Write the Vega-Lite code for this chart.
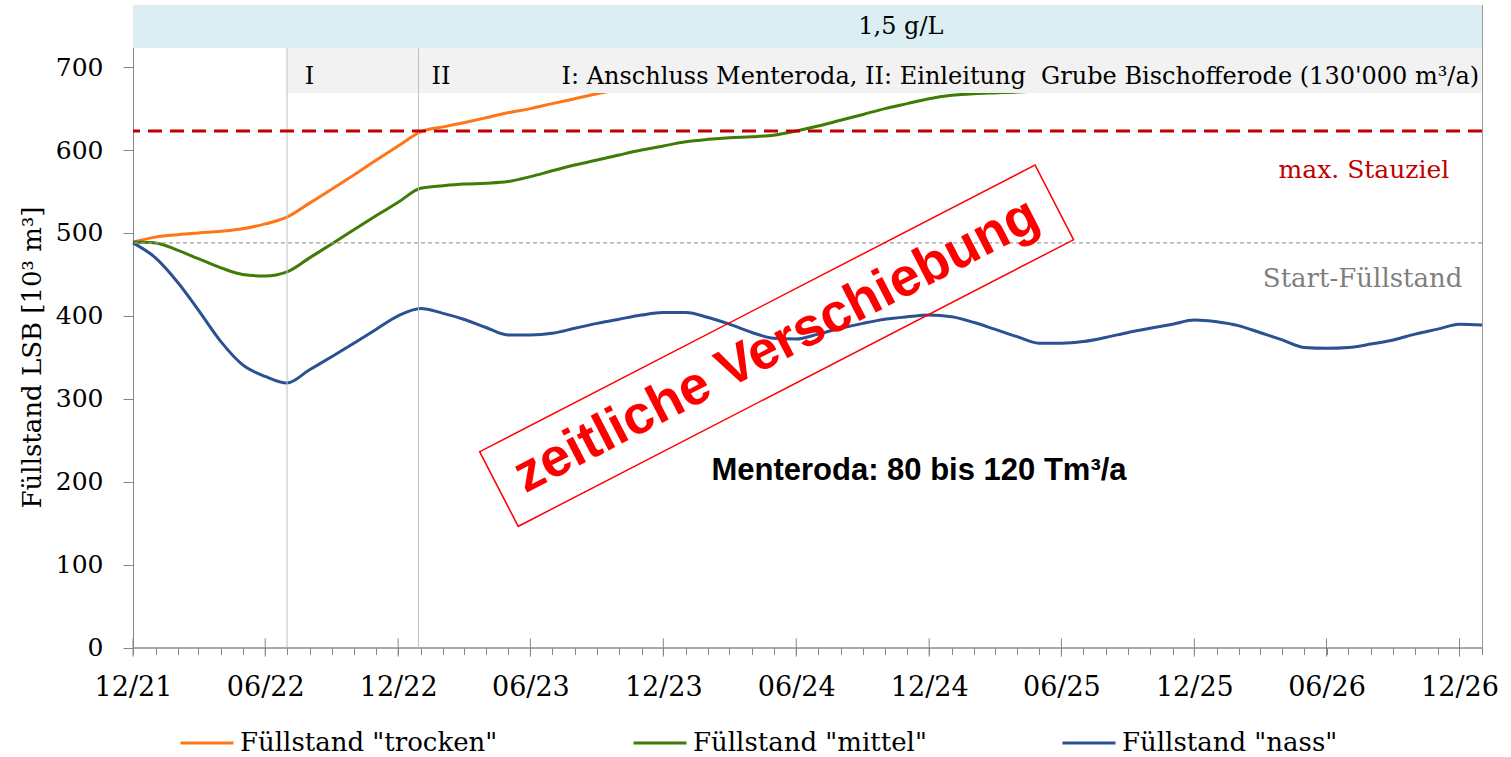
{
  "$schema": "https://vega.github.io/schema/vega-lite/v6.json",
  "width": 1349,
  "height": 642.5,
  "autosize": {"type": "none"},
  "padding": {"left": 133, "top": 5, "right": 29, "bottom": 109.5},
  "background": "white",
  "config": {"view": {"stroke": "#9a9a9a", "strokeWidth": 1}, "font": "DejaVu Serif"},
  "datasets": {
    "levels": [
      {"date": "2021-12-01", "trocken": 489, "mittel": 489, "nass": 488},
      {"date": "2022-01-01", "trocken": 495, "mittel": 488, "nass": 470},
      {"date": "2022-02-01", "trocken": 498, "mittel": 479, "nass": 440},
      {"date": "2022-03-01", "trocken": 500, "mittel": 469, "nass": 407},
      {"date": "2022-04-01", "trocken": 502, "mittel": 458, "nass": 369},
      {"date": "2022-05-01", "trocken": 505, "mittel": 450, "nass": 341},
      {"date": "2022-06-01", "trocken": 511, "mittel": 448, "nass": 327},
      {"date": "2022-07-01", "trocken": 519, "mittel": 453, "nass": 319},
      {"date": "2022-08-01", "trocken": 536, "mittel": 470, "nass": 335},
      {"date": "2022-09-01", "trocken": 553, "mittel": 487, "nass": 351},
      {"date": "2022-10-01", "trocken": 570, "mittel": 504, "nass": 367},
      {"date": "2022-11-01", "trocken": 588, "mittel": 521, "nass": 384},
      {"date": "2022-12-01", "trocken": 605, "mittel": 537, "nass": 400},
      {"date": "2023-01-01", "trocken": 622, "mittel": 554, "nass": 409},
      {"date": "2023-02-01", "trocken": 628, "mittel": 557, "nass": 403},
      {"date": "2023-03-01", "trocken": 633, "mittel": 559, "nass": 396},
      {"date": "2023-04-01", "trocken": 639, "mittel": 560, "nass": 386},
      {"date": "2023-05-01", "trocken": 645, "mittel": 562, "nass": 377},
      {"date": "2023-06-01", "trocken": 650, "mittel": 568, "nass": 377},
      {"date": "2023-07-01", "trocken": 656, "mittel": 575, "nass": 379},
      {"date": "2023-08-01", "trocken": 662, "mittel": 582, "nass": 385},
      {"date": "2023-09-01", "trocken": 668, "mittel": 588, "nass": 391},
      {"date": "2023-10-01", "trocken": 673, "mittel": 594, "nass": 396},
      {"date": "2023-11-01", "trocken": 679, "mittel": 600, "nass": 401},
      {"date": "2023-12-01", "trocken": 684, "mittel": 605, "nass": 404},
      {"date": "2024-01-01", "mittel": 610, "nass": 404},
      {"date": "2024-02-01", "mittel": 613, "nass": 398},
      {"date": "2024-03-01", "mittel": 615, "nass": 390},
      {"date": "2024-04-01", "mittel": 616, "nass": 380},
      {"date": "2024-05-01", "mittel": 618, "nass": 373},
      {"date": "2024-06-01", "mittel": 623, "nass": 372},
      {"date": "2024-07-01", "mittel": 629, "nass": 378},
      {"date": "2024-08-01", "mittel": 636, "nass": 385},
      {"date": "2024-09-01", "mittel": 643, "nass": 391},
      {"date": "2024-10-01", "mittel": 650, "nass": 396},
      {"date": "2024-11-01", "mittel": 656, "nass": 399},
      {"date": "2024-12-01", "mittel": 662, "nass": 401},
      {"date": "2025-01-01", "mittel": 666, "nass": 399},
      {"date": "2025-02-01", "mittel": 668, "nass": 392},
      {"date": "2025-03-01", "mittel": 669, "nass": 384},
      {"date": "2025-04-01", "mittel": 670, "nass": 375},
      {"date": "2025-05-01", "mittel": 672, "nass": 367},
      {"date": "2025-06-01", "mittel": 675, "nass": 367},
      {"date": "2025-07-01", "nass": 369},
      {"date": "2025-08-01", "nass": 374},
      {"date": "2025-09-01", "nass": 380},
      {"date": "2025-10-01", "nass": 385},
      {"date": "2025-11-01", "nass": 390},
      {"date": "2025-12-01", "nass": 395},
      {"date": "2026-01-01", "nass": 393},
      {"date": "2026-02-01", "nass": 388},
      {"date": "2026-03-01", "nass": 380},
      {"date": "2026-04-01", "nass": 371},
      {"date": "2026-05-01", "nass": 362},
      {"date": "2026-06-01", "nass": 361},
      {"date": "2026-07-01", "nass": 362},
      {"date": "2026-08-01", "nass": 366},
      {"date": "2026-09-01", "nass": 371},
      {"date": "2026-10-01", "nass": 378},
      {"date": "2026-11-01", "nass": 384},
      {"date": "2026-12-01", "nass": 390},
      {"date": "2027-01-01", "nass": 389}
    ],
    "majorTicks": [
      {"date": "2021-12-01"}, {"date": "2022-06-01"}, {"date": "2022-12-01"},
      {"date": "2023-06-01"}, {"date": "2023-12-01"}, {"date": "2024-06-01"},
      {"date": "2024-12-01"}, {"date": "2025-06-01"}, {"date": "2025-12-01"},
      {"date": "2026-06-01"}, {"date": "2026-12-01"}
    ]
  },
  "layer": [
    {
      "data": {"name": "levels"},
      "transform": [{"fold": ["trocken", "mittel", "nass"], "as": ["series", "value"]}],
      "mark": {"type": "line", "strokeWidth": 3, "interpolate": "monotone"},
      "encoding": {
        "x": {
          "field": "date", "type": "temporal",
          "scale": {"type": "utc", "nice": false, "domain": [{"year": 2021, "month": 12, "date": 1, "utc": true}, {"year": 2027, "month": 1, "date": 1, "utc": true}]},
          "axis": {
            "format": "%m/%y",
            "tickCount": {"interval": "month", "step": 1},
            "labelExpr": "(utcmonth(datum.value) == 5 || utcmonth(datum.value) == 11) ? datum.label : ''",
            "labelFont": "DejaVu Serif", "labelFontSize": 27, "labelColor": "black",
            "labelPadding": 20, "tickSize": 7, "tickColor": "#868686", "domainColor": "#868686",
            "grid": false, "title": null, "labelOverlap": false, "labelFlush": false, "labelBound": false
          }
        },
        "y": {
          "field": "value", "type": "quantitative",
          "scale": {"domain": [0, 775], "nice": false},
          "axis": {
            "values": [0, 100, 200, 300, 400, 500, 600, 700],
            "labelFont": "DejaVu Serif", "labelFontSize": 25, "labelColor": "black",
            "labelPadding": 20, "tickSize": 10, "tickColor": "#868686", "domainColor": "#868686",
            "grid": false,
            "title": "Füllstand LSB [10³ m³]",
            "titleFont": "DejaVu Serif", "titleFontSize": 26, "titleFontWeight": "normal", "titleColor": "black",
            "titlePadding": 10, "titleY": 352
          }
        },
        "color": {
          "field": "series", "type": "nominal",
          "scale": {"domain": ["trocken", "mittel", "nass"], "range": ["#FF7518", "#3F7B06", "#2A5192"]},
          "legend": {
            "title": null, "orient": "none", "legendX": 46, "legendY": 710, "direction": "horizontal",
            "symbolType": "stroke", "symbolStrokeWidth": 3, "symbolSize": 2809,
            "labelFont": "DejaVu Serif", "labelFontSize": 26, "labelColor": "black",
            "labelOffset": 5, "columnPadding": 129, "labelLimit": 0,
            "labelExpr": "'Füllstand \"' + datum.label + '\"'"
          }
        }
      }
    },
    {
      "data": {"values": [{"date": "2022-07-01", "end": "2027-01-01", "value": 669, "high": 723}]},
      "mark": {"type": "rect", "color": "#F2F2F2"},
      "encoding": {
        "x": {"field": "date", "type": "temporal"}, "x2": {"field": "end"},
        "y": {"field": "value", "type": "quantitative"}, "y2": {"field": "high"}
      }
    },
    {
      "data": {"values": [{"date": "2021-12-01", "end": "2027-01-01", "value": 723, "high": 775}]},
      "mark": {"type": "rect", "color": "#DAEEF3"},
      "encoding": {
        "x": {"field": "date", "type": "temporal"}, "x2": {"field": "end"},
        "y": {"field": "value", "type": "quantitative"}, "y2": {"field": "high"}
      }
    },
    {
      "data": {"values": [{"date": "2022-07-01"}, {"date": "2022-12-29"}]},
      "mark": {"type": "rule", "color": "#C0C0C0", "strokeWidth": 1},
      "encoding": {
        "x": {"field": "date", "type": "temporal"},
        "y": {"datum": 0, "type": "quantitative"}, "y2": {"datum": 723}
      }
    },
    {
      "data": {"values": [{"level": "start"}]},
      "mark": {"type": "rule", "color": "#A0A0A0", "strokeWidth": 1.2, "strokeDash": [4, 3]},
      "encoding": {"y": {"datum": 488, "type": "quantitative"}}
    },
    {
      "data": {"values": [{"level": "max"}]},
      "mark": {"type": "rule", "color": "#C00000", "strokeWidth": 3, "strokeDash": [14, 8]},
      "encoding": {"y": {"datum": 623, "type": "quantitative"}}
    },
    {
      "data": {"name": "majorTicks"},
      "mark": {"type": "rule", "color": "#868686", "strokeWidth": 1},
      "encoding": {
        "x": {"field": "date", "type": "temporal"},
        "y": {"datum": -11, "type": "quantitative"}, "y2": {"datum": 11}
      }
    },
    {
      "data": {"values": [{"date": "2024-10-23", "value": 749, "label": "1,5 g/L"}]},
      "mark": {"type": "text", "font": "DejaVu Serif", "fontSize": 24, "color": "black", "align": "center", "baseline": "middle"},
      "encoding": {"x": {"field": "date", "type": "temporal"}, "y": {"field": "value", "type": "quantitative"}, "text": {"field": "label"}}
    },
    {
      "data": {"values": [
        {"date": "2022-08-01", "value": 688, "label": "I"},
        {"date": "2023-01-29", "value": 688, "label": "II"}
      ]},
      "mark": {"type": "text", "font": "DejaVu Serif", "fontSize": 24, "color": "black", "align": "center", "baseline": "middle"},
      "encoding": {"x": {"field": "date", "type": "temporal"}, "y": {"field": "value", "type": "quantitative"}, "text": {"field": "label"}}
    },
    {
      "data": {"values": [{"date": "2026-12-28", "value": 688, "label": "I: Anschluss Menteroda, II: Einleitung\u00a0 Grube Bischofferode (130'000 m³/a)"}]},
      "mark": {"type": "text", "font": "DejaVu Serif", "fontSize": 24, "color": "black", "align": "right", "baseline": "middle"},
      "encoding": {"x": {"field": "date", "type": "temporal"}, "y": {"field": "value", "type": "quantitative"}, "text": {"field": "label"}}
    },
    {
      "data": {"values": [{"date": "2026-11-17", "value": 576, "label": "max. Stauziel"}]},
      "mark": {"type": "text", "font": "DejaVu Serif", "fontSize": 25, "color": "#C00000", "align": "right", "baseline": "middle"},
      "encoding": {"x": {"field": "date", "type": "temporal"}, "y": {"field": "value", "type": "quantitative"}, "text": {"field": "label"}}
    },
    {
      "data": {"values": [{"date": "2026-12-05", "value": 444, "label": "Start-Füllstand"}]},
      "mark": {"type": "text", "font": "DejaVu Serif", "fontSize": 26, "color": "#7F7F7F", "align": "right", "baseline": "middle"},
      "encoding": {"x": {"field": "date", "type": "temporal"}, "y": {"field": "value", "type": "quantitative"}, "text": {"field": "label"}}
    },
    {
      "data": {"values": [{"date": "2024-11-17", "value": 213, "label": "Menteroda: 80 bis 120 Tm³/a"}]},
      "mark": {"type": "text", "font": "Liberation Sans", "fontWeight": "bold", "fontSize": 31, "color": "black", "align": "center", "baseline": "middle"},
      "encoding": {"x": {"field": "date", "type": "temporal"}, "y": {"field": "value", "type": "quantitative"}, "text": {"field": "label"}}
    },
    {
      "data": {"values": [{"date": "2024-05-05", "value": 364}]},
      "mark": {"type": "point", "shape": "M-1,-0.1344L1,-0.1344L1,0.1344L-1,0.1344Z", "size": 390625, "angle": -27.3, "filled": false, "stroke": "#FF0000", "strokeWidth": 1.5, "opacity": 1},
      "encoding": {"x": {"field": "date", "type": "temporal"}, "y": {"field": "value", "type": "quantitative"}}
    },
    {
      "data": {"values": [{"date": "2024-05-05", "value": 364, "label": "zeitliche Verschiebung"}]},
      "mark": {"type": "text", "font": "Liberation Sans", "fontWeight": "bold", "fontSize": 54, "color": "#FF0000", "align": "center", "baseline": "middle", "angle": -27.3},
      "encoding": {"x": {"field": "date", "type": "temporal"}, "y": {"field": "value", "type": "quantitative"}, "text": {"field": "label"}}
    }
  ]
}
